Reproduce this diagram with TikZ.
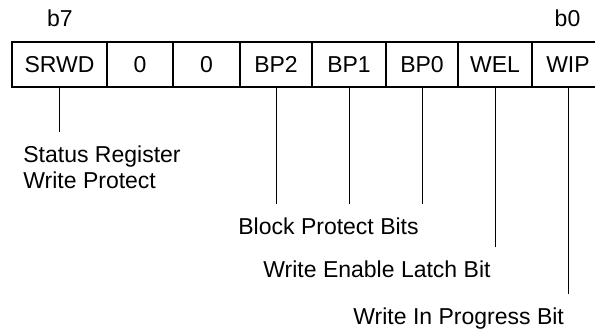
\documentclass[tikz,border=0pt]{standalone}
\usepackage{fontspec}
\setmainfont{Liberation Sans}
\begin{document}
\begin{tikzpicture}[x=0.5pt, y=-0.5pt,
        regfont/.style={font=\fontsize{11.5}{13}\selectfont},
        bitcell/.style={draw, line width=0.8pt, regfont, minimum height=22.5pt, inner sep=0pt},
        bitlabel/.style={regfont, anchor=north west, align=left, inner xsep=0pt, inner ysep=6.5pt},
        leader/.style={line width=0.5pt}]

        \useasboundingbox (0,0) rectangle (595,328);

        % register cells, b7 ... b0
        \node[bitcell, minimum width=47.5pt] (srwd) at (59.5, 64.5) {SRWD};
        \node[bitcell, minimum width=33pt] (zeroa) at (140, 64.5) {0};
        \node[bitcell, minimum width=33.5pt] (zerob) at (206.5, 64.5) {0};
        \node[bitcell, minimum width=36pt] (bptwo) at (276, 64.5) {BP2};
        \node[bitcell, minimum width=37pt] (bpone) at (349, 64.5) {BP1};
        \node[bitcell, minimum width=36pt] (bpzero) at (422, 64.5) {BP0};
        \node[bitcell, minimum width=37pt] (wel) at (495, 64.5) {WEL};
        \node[bitcell, minimum width=36pt] (wip) at (568, 64.5) {WIP};

        \node[regfont, anchor=base] (bseven) at (60, 26) {b7};
        \node[regfont, anchor=base] (bzero) at (567.5, 26) {b0};

        % descriptions
        \node[bitlabel] (srwdtxt) at (23, 132) {Status Register\\Write Protect};
        \node[bitlabel] (bptxt) at (238, 204) {Block Protect Bits};
        \node[bitlabel] (weltxt) at (263, 247) {Write Enable Latch Bit};
        \node[bitlabel] (wiptxt) at (353, 294) {Write In Progress Bit};

        \draw[leader] (srwd.south) -- (srwd.south |- srwdtxt.north);
        \draw[leader] (bptwo.south) -- (bptwo.south |- bptxt.north);
        \draw[leader] (bpone.south) -- (bpone.south |- bptxt.north);
        \draw[leader] (bpzero.south) -- (bpzero.south |- bptxt.north);
        \draw[leader] (wel.south) -- (wel.south |- weltxt.north);
        \draw[leader] (wip.south) -- (wip.south |- wiptxt.north);
      \end{tikzpicture}
\end{document}
